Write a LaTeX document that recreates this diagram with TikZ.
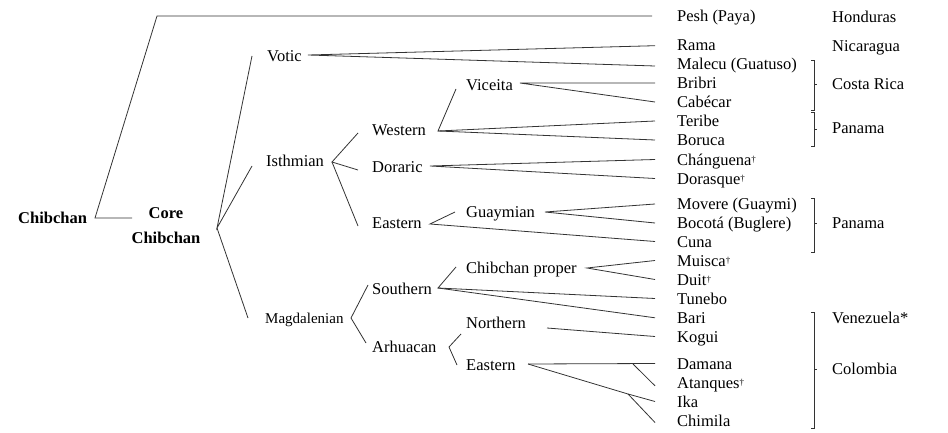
\documentclass[tikz,border=0pt]{standalone}
\usepackage{fontspec}
\setmainfont{Liberation Serif}
\newcommand\dg{\raisebox{0.35ex}{\fontsize{9}{9}\selectfont †}}
\begin{document}
\begin{tikzpicture}[x=1pt,y=-1pt,
  conn/.style={draw=black!80, line width=0.8pt},
  lab/.style={anchor=west, inner sep=0pt, font=\fontsize{16.5}{19}\selectfont, text height=11.2pt, text depth=0pt},
  blab/.style={lab, font=\bfseries\fontsize{16.5}{19}\selectfont},
  slab/.style={lab, font=\fontsize{15}{18}\selectfont, text height=10.2pt}]
\useasboundingbox (0,0) rectangle (948,433);
% group labels
\node[blab] (chib) at (18,218) {Chibchan};
\node[blab, anchor=center] (core) at (166,213) {Core};
\node[blab, anchor=center] (core2) at (166,237.5) {Chibchan};
\node[lab] (votic) at (267,56) {Votic};
\node[lab] (isth) at (266,161) {Isthmian};
\node[slab] (magd) at (265,318.5) {Magdalenian};
\node[lab] (western) at (372,130) {Western};
\node[lab] (viceita) at (466,84.5) {Viceita};
\node[lab] (doraric) at (372,167) {Doraric};
\node[lab] (eastA) at (372,223) {Eastern};
\node[lab] (guay) at (466,212) {Guaymian};
\node[lab] (south) at (372,289) {Southern};
\node[lab] (chibprop) at (466,268) {Chibchan proper};
\node[lab] (arh) at (372,347) {Arhuacan};
\node[lab] (north) at (466,323) {Northern};
\node[lab] (eastB) at (466,365) {Eastern};
% leaves
\node[lab] (pesh) at (677,16) {Pesh (Paya)};
\node[lab] (rama) at (677,44.7) {Rama};
\node[lab] (malecu) at (677,64) {Malecu (Guatuso)};
\node[lab] (bribri) at (677,83) {Bribri};
\node[lab] (cabecar) at (677,102) {Cabécar};
\node[lab] (teribe) at (677,121) {Teribe};
\node[lab] (boruca) at (677,140) {Boruca};
\node[lab] (changuena) at (677,159.5) {Chánguena\dg};
\node[lab] (dorasque) at (677,178.5) {Dorasque\dg};
\node[lab] (movere) at (677,204) {Movere (Guaymi)};
\node[lab] (bocota) at (677,223) {Bocotá (Buglere)};
\node[lab] (cuna) at (677,241.5) {Cuna};
\node[lab] (muisca) at (677,260.5) {Muisca\dg};
\node[lab] (duit) at (677,279.5) {Duit\dg};
\node[lab] (tunebo) at (677,298.5) {Tunebo};
\node[lab] (bari) at (677,317.8) {Bari};
\node[lab] (kogui) at (677,336.5) {Kogui};
\node[lab] (damana) at (677,363.5) {Damana};
\node[lab] (atanques) at (677,382.8) {Atanques\dg};
\node[lab] (ika) at (677,401.5) {Ika};
\node[lab] (chimila) at (677,420.5) {Chimila};
% countries
\node[lab] (hond) at (832,17) {Honduras};
\node[lab] (nic) at (832,46) {Nicaragua};
\node[lab] (cr) at (832,84) {Costa Rica};
\node[lab] (pan1) at (832,127.5) {Panama};
\node[lab] (pan2) at (832,223) {Panama};
\node[lab] (ven) at (832,318) {Venezuela*};
\node[lab] (col) at (832,369) {Colombia};
% branch points
\coordinate (c-top) at (157,16);
\coordinate (c-chib) at (95,218);
\coordinate (c-core) at (132,218);
\coordinate (k-core) at (217,228);
\coordinate (e-votic) at (252,56);
\coordinate (e-isth) at (252,166);
\coordinate (e-magd) at (248,318);
\coordinate (s-votic) at (308,55);
\coordinate (k-isth) at (332,162);
\coordinate (e-western) at (358,133);
\coordinate (e-doraric) at (358,170);
\coordinate (e-eastA) at (358,226);
\coordinate (k-western) at (438,131);
\coordinate (e-viceita) at (456,89);
\coordinate (k-viceita) at (520,83);
\coordinate (k-doraric) at (430,166);
\coordinate (k-eastA) at (430,224);
\coordinate (e-guay) at (455,212);
\coordinate (k-guay) at (545,212);
\coordinate (k-magd) at (351,318);
\coordinate (e-south) at (368,285);
\coordinate (e-arh) at (366,343);
\coordinate (k-south) at (438,288);
\coordinate (e-chibprop) at (456,267);
\coordinate (k-chibprop) at (587,268);
\coordinate (k-arh) at (449,347);
\coordinate (e-north) at (461,334);
\coordinate (e-eastB) at (457,365);
\coordinate (s-north) at (547,328);
\coordinate (k-eastB) at (528,364);
\coordinate (k-damana) at (633,364);
\coordinate (k-ika) at (628,394);
% connectors
\draw[conn] ([xshift=-25pt]pesh.west) -- (c-top) -- (c-chib) -- (c-core);
\draw[conn] (e-votic) -- (k-core) -- (e-isth);
\draw[conn] (k-core) -- (e-magd);
\draw[conn] ([xshift=-22pt,yshift=-1pt]rama.west) -- (s-votic) -- ([xshift=-22pt,yshift=-2pt]malecu.west);
\draw[conn] (e-western) -- (k-isth) -- (e-doraric);
\draw[conn] (k-isth) -- (e-eastA);
\draw[conn] (e-viceita) -- (k-western) -- ([xshift=-22pt]teribe.west);
\draw[conn] (k-western) -- ([xshift=-22pt]boruca.west);
\draw[conn] ([xshift=-22pt]bribri.west) -- (k-viceita) -- ([xshift=-22pt]cabecar.west);
\draw[conn] ([xshift=-22pt]changuena.west) -- (k-doraric) -- ([xshift=-22pt]dorasque.west);
\draw[conn] (e-guay) -- (k-eastA) -- ([xshift=-22pt]cuna.west);
\draw[conn] ([xshift=-22pt]movere.west) -- (k-guay) -- ([xshift=-22pt]bocota.west);
\draw[conn] (e-south) -- (k-magd) -- (e-arh);
\draw[conn] (e-chibprop) -- (k-south) -- ([xshift=-22pt]tunebo.west);
\draw[conn] (k-south) -- ([xshift=-22pt]bari.west);
\draw[conn] ([xshift=-22pt]muisca.west) -- (k-chibprop) -- ([xshift=-22pt]duit.west);
\draw[conn] (e-north) -- (k-arh) -- (e-eastB);
\draw[conn] (s-north) -- ([xshift=-22pt]kogui.west);
\draw[conn] (k-eastB) -- ([xshift=-22pt]damana.west);
\draw[conn] (k-damana) -- ([xshift=-22pt,yshift=-3pt]atanques.west);
\draw[conn] (k-eastB) -- (k-ika) -- ([xshift=-22pt]ika.west);
\draw[conn] (k-ika) -- ([xshift=-22pt,yshift=-2pt]chimila.west);
% brackets
\draw[conn, line width=0.7pt] (811,60) -- (814,60) -- (814,110) -- (811,110) (814,84) -- (817,84);
\draw[conn, line width=0.7pt] (811,112) -- (814,112) -- (814,146) -- (811,146) (814,129) -- (817,129);
\draw[conn, line width=0.7pt] (811,198) -- (814,198) -- (814,252) -- (811,252) (814,223) -- (817,223);
\draw[conn, line width=0.7pt] (811,312) -- (814,312) -- (814,428) -- (811,428) (814,369) -- (817,369);
\end{tikzpicture}
\end{document}
